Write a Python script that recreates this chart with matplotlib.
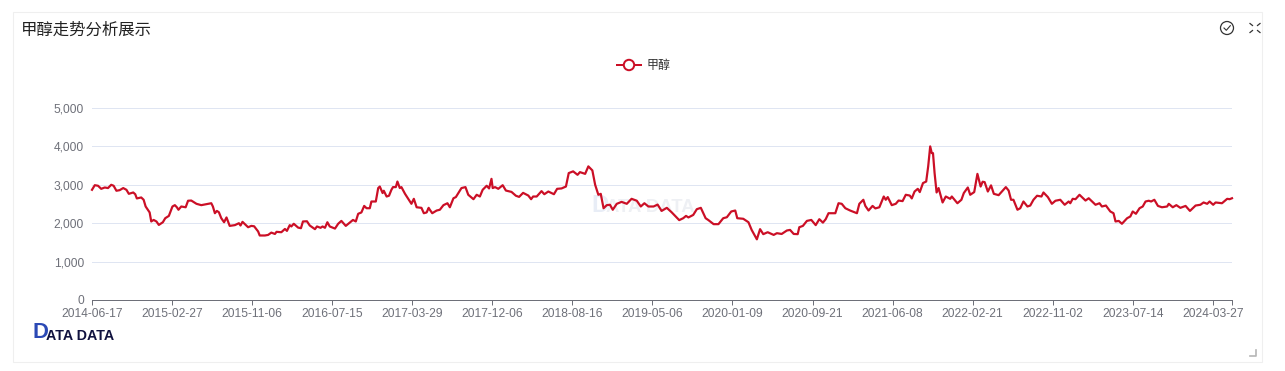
import matplotlib
matplotlib.use("Agg")
import matplotlib.pyplot as plt
from matplotlib.patches import Rectangle, Circle
from matplotlib.lines import Line2D

plt.rcParams['font.family'] = ['Liberation Sans', 'Noto Sans CJK SC', 'DejaVu Sans']

title = "甲醇走势分析展示"
series_name = "甲醇"
tick_labels = ["2014-06-17", "2015-02-27", "2015-11-06", "2016-07-15", "2017-03-29",
               "2017-12-06", "2018-08-16", "2019-05-06", "2020-01-09", "2020-09-21",
               "2021-06-08", "2022-02-21", "2022-11-02", "2023-07-14", "2024-03-27"]
tick_positions = [0, 200, 400, 600, 800, 1000, 1200, 1400, 1600, 1800, 2000, 2200, 2400, 2600, 2800]
last_position = 2848
y_ticks = [0, 1000, 2000, 3000, 4000, 5000]

positions = [
    0, 7, 15, 23, 32, 40, 48, 54, 61, 69, 78, 86, 92, 103, 108, 112, 123, 129, 134, 144, 148, 154, 161, 167, 177,
    183, 192, 201, 207, 212, 216, 223, 234, 240, 248, 261, 273, 286, 298, 302, 307, 312, 317, 323, 330, 336, 344,
    357, 367, 371, 376, 390, 398, 405, 415, 419, 432, 440, 448, 457, 461, 473, 482, 487, 494, 498, 504, 515, 522,
    527, 537, 544, 557, 562, 571, 576, 582, 588, 594, 607, 615, 623, 634, 644, 652, 659, 665, 673, 680, 686, 694,
    698, 709, 715, 719, 726, 729, 736, 742, 748, 752, 759, 763, 769, 773, 782, 790, 798, 804, 811, 823, 829, 836,
    841, 844, 850, 861, 869, 878, 888, 894, 903, 909, 923, 933, 940, 953, 961, 969, 976, 986, 992, 998, 1001, 1007,
    1015, 1026, 1034, 1048, 1059, 1067, 1077, 1090, 1097, 1102, 1111, 1123, 1130, 1140, 1154, 1162, 1173, 1184,
    1191, 1202, 1213, 1219, 1232, 1240, 1250, 1257, 1265, 1271, 1278, 1286, 1294, 1301, 1311, 1323, 1336, 1348,
    1361, 1371, 1380, 1390, 1403, 1413, 1423, 1436, 1448, 1467, 1477, 1484, 1490, 1502, 1511, 1521, 1533, 1540,
    1553, 1565, 1577, 1586, 1597, 1607, 1612, 1627, 1640, 1648, 1661, 1669, 1677, 1688, 1703, 1711, 1723, 1736,
    1744, 1753, 1763, 1767, 1776, 1786, 1797, 1808, 1817, 1826, 1833, 1840, 1857, 1865, 1873, 1882, 1894, 1911,
    1917, 1927, 1932, 1940, 1950, 1957, 1967, 1978, 1983, 1988, 1998, 2008, 2015, 2025, 2033, 2043, 2048, 2055,
    2063, 2068, 2076, 2084, 2089, 2094, 2098, 2101, 2105, 2110, 2115, 2125, 2133, 2144, 2148, 2162, 2172, 2178,
    2188, 2194, 2204, 2212, 2220, 2225, 2230, 2238, 2246, 2253, 2265, 2273, 2283, 2290, 2296, 2302, 2312, 2319,
    2327, 2337, 2344, 2352, 2361, 2372, 2377, 2388, 2398, 2407, 2419, 2430, 2440, 2444, 2450, 2457, 2467, 2482,
    2490, 2507, 2517, 2523, 2533, 2544, 2552, 2557, 2565, 2573, 2586, 2594, 2600, 2608, 2617, 2625, 2632, 2640,
    2646, 2654, 2663, 2673, 2686, 2690, 2700, 2709, 2719, 2732, 2743, 2757, 2769, 2777, 2786, 2792, 2801, 2807,
    2823, 2836, 2842, 2848,
]
values = [
    2870, 2990, 2975, 2895, 2930, 2915, 3000, 2975, 2845, 2860, 2915, 2870, 2765, 2800, 2755, 2645, 2670, 2610,
    2435, 2280, 2045, 2085, 2045, 1955, 2025, 2130, 2190, 2435, 2470, 2415, 2350, 2435, 2415, 2585, 2590, 2505,
    2470, 2495, 2520, 2435, 2260, 2320, 2285, 2130, 2025, 2150, 1930, 1950, 2000, 1940, 2035, 1895, 1930, 1920,
    1785, 1680, 1680, 1695, 1755, 1720, 1775, 1765, 1850, 1800, 1950, 1915, 1985, 1885, 1870, 2045, 2050, 1940,
    1845, 1915, 1880, 1915, 1880, 2025, 1915, 1860, 1985, 2060, 1930, 2015, 2085, 2045, 2245, 2280, 2450, 2390,
    2390, 2565, 2565, 2915, 2955, 2785, 2845, 2695, 2715, 2870, 2940, 2940, 3085, 2915, 2940, 2765, 2635, 2505,
    2635, 2415, 2400, 2260, 2280, 2400, 2350, 2260, 2330, 2350, 2470, 2520, 2415, 2650, 2680, 2915, 2940, 2740,
    2625, 2740, 2695, 2870, 2975, 2905, 3155, 2915, 2940, 2895, 2990, 2850, 2815, 2715, 2685, 2790, 2720, 2625,
    2695, 2695, 2835, 2755, 2825, 2755, 2895, 2905, 2955, 3305, 3350, 3260, 3330, 3285, 3480, 3375, 3000, 2740,
    2765, 2390, 2470, 2480, 2350, 2505, 2555, 2505, 2635, 2585, 2435, 2520, 2435, 2435, 2485, 2320, 2400, 2285,
    2080, 2130, 2190, 2150, 2215, 2365, 2400, 2130, 2080, 1975, 1975, 2130, 2155, 2305, 2330, 2130, 2115, 2025,
    1825, 1580, 1845, 1715, 1765, 1695, 1740, 1720, 1810, 1825, 1720, 1715, 1895, 1930, 2060, 2085, 1950, 2105,
    2015, 2105, 2260, 2260, 2520, 2505, 2390, 2330, 2260, 2505, 2610, 2450, 2330, 2450, 2385, 2415, 2695, 2610,
    2680, 2470, 2505, 2590, 2575, 2740, 2720, 2645, 2825, 2895, 2810, 3045, 3085, 3480, 4000, 3825, 3825, 3305,
    2800, 2915, 2540, 2695, 2635, 2695, 2520, 2610, 2785, 2930, 2740, 2810, 3285, 2955, 3080, 3070, 2825, 2985,
    2765, 2730, 2825, 2940, 2850, 2610, 2610, 2350, 2390, 2565, 2435, 2460, 2610, 2715, 2695, 2800, 2680, 2505,
    2585, 2610, 2480, 2565, 2520, 2635, 2625, 2740, 2590, 2650, 2480, 2520, 2435, 2460, 2305, 2260, 2045, 2060,
    1985, 2130, 2175, 2305, 2245, 2390, 2435, 2565, 2585, 2565, 2610, 2450, 2415, 2435, 2505, 2415, 2470, 2400,
    2450, 2320, 2460, 2480, 2540, 2505, 2565, 2480, 2540, 2520, 2635, 2625, 2650,
]

W, H = 1285, 371
RED = "#cb0f26"
GREY = "#6e7079"
GRID = "#dfe5f2"
NAVY = "#10123f"
BLUE = "#2b49b5"


def px(n):
    return n * 72 / 100


fig = plt.figure(figsize=(W / 100, H / 100), dpi=100, facecolor="white")

bg = fig.add_axes([0, 0, 1, 1], zorder=0)
bg.set_xlim(0, W)
bg.set_ylim(H, 0)
bg.axis("off")

bg.add_patch(Rectangle((12.5, 11.5), 1249.5, 350.5, fill=False, ec="#efefef", lw=0.8))
bg.text(21, 30, title, fontsize=px(16.4), color="#222222", va="center", ha="left",
        family=['Noto Sans CJK SC', 'DejaVu Sans'])

# header icons
bg.add_patch(Circle((1227, 28), 6.5, fill=False, ec="#333333", lw=0.9))
bg.plot([1224, 1226.3, 1230.3], [28, 30.3, 25.7], color="#333333", lw=0.8)
for sx, sy in [(-1, -1), (1, -1), (-1, 1), (1, 1)]:
    cx, cy = 1255, 28
    bg.plot([cx + sx * 2.5, cx + sx * 5], [cy + sy * 2.5, cy + sy * 4.5], color="#333333", lw=0.9)

# resize handle
bg.plot([1250, 1255.5, 1255.5], [355.5, 355.5, 350], color="#b5b5b5", lw=1.2)

# legend
bg.add_line(Line2D([617, 641], [65, 65], color=RED, lw=px(2)))
bg.add_patch(Circle((629, 65), 5.2, fc="white", ec=RED, lw=px(2), zorder=3))
bg.text(647, 66, series_name, fontsize=px(12), color="#333333", va="center", ha="left",
        family=['Noto Sans CJK SC', 'DejaVu Sans'])

# watermark
bg.text(591, 205, "D", fontsize=px(24), color="#e8edf6", va="center", ha="left", fontweight="bold")
bg.text(606, 207, "ATA DATA", fontsize=px(18.5), color="#eef0f4", va="center", ha="left", fontweight="bold")

# logo
bg.text(32, 332, "D", fontsize=px(22), color=BLUE, va="center", ha="left", fontweight="bold")
bg.text(46, 335.5, "ATA DATA", fontsize=px(14.3), color=NAVY, va="center", ha="left", fontweight="bold")

# chart
ax = fig.add_axes([92 / W, 1 - 300 / H, (1232 - 92) / W, (300 - 108) / H], zorder=1)
ax.patch.set_alpha(0)
ax.plot(positions, values, color=RED, lw=px(2.2), solid_joinstyle="round", clip_on=False, zorder=3)
ax.set_xlim(0, last_position)
ax.set_ylim(0, y_ticks[-1])
ax.set_yticks(y_ticks)
ax.set_yticklabels([f"{v:,}" for v in y_ticks])
ax.set_xticks(tick_positions + [last_position])
ax.set_xticklabels(tick_labels + [""])
ax.grid(axis="y", color=GRID, lw=px(1))
ax.set_axisbelow(True)
for name in ("top", "right", "left"):
    ax.spines[name].set_visible(False)
ax.spines["bottom"].set_color(GREY)
ax.spines["bottom"].set_linewidth(px(1))
ax.tick_params(axis="y", length=0, pad=px(8), labelsize=px(12), labelcolor=GREY)
ax.tick_params(axis="x", length=px(5), width=px(1), color=GREY, pad=px(3), labelsize=px(12), labelcolor=GREY)

fig.savefig("out.png", dpi=100, facecolor="white")
